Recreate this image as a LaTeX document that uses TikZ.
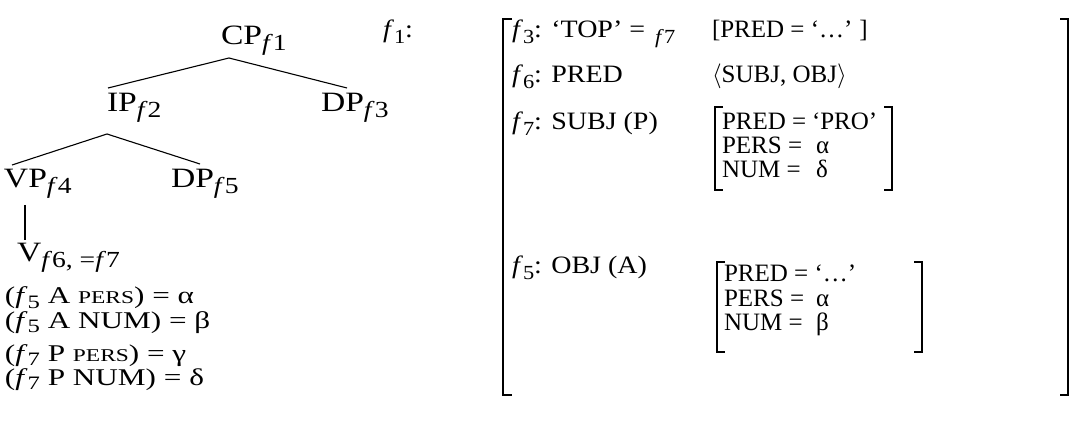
\documentclass[tikz,border=0pt]{standalone}
\usepackage{fontspec}
\setmainfont{Liberation Serif}
\newcommand\tsub[1]{\raisebox{-0.45ex}{\fontsize{23}{23}\selectfont #1}}
\newcommand\lsub[1]{\raisebox{-0.45ex}{\fontsize{20}{20}\selectfont #1}}
\newcommand\esub[1]{\raisebox{-0.4ex}{\fontsize{19}{19}\selectfont #1}}
\newcommand\smc[1]{{\fontsize{18}{18}\selectfont #1}}
\newcommand\wtree[1]{\scalebox{1.2}[1]{#1}}
\newcommand\weq[1]{\scalebox{1.3}[1]{#1}}
\newcommand\wcol[1]{\scalebox{1.12}[1]{#1}}
\begin{document}
\begin{tikzpicture}[x=1pt,y=-1pt,
  lbl/.style={anchor=base west, inner sep=0pt, outer sep=0pt, font=\fontsize{25}{25}\selectfont},
  clbl/.style={lbl, font=\fontsize{25}{25}\selectfont},
  tlbl/.style={lbl, font=\fontsize{28}{28}\selectfont},
  eq/.style={lbl, font=\fontsize{24}{24}\selectfont},
  br/.style={line width=1.5pt},
  edge/.style={line width=1.1pt}]
\useasboundingbox (0,0) rectangle (1075,443);
% tree
\node[tlbl] (cp) at (221,45) {\wtree{CP\tsub{\textit{f}1}}};
\node[tlbl] (ip) at (107,112) {\wtree{IP\tsub{\textit{f}2}}};
\node[tlbl] (dp3) at (321,112) {\wtree{DP\tsub{\textit{f}3}}};
\node[tlbl] (vp) at (4,188) {\wtree{VP\tsub{\textit{f}4}}};
\node[tlbl] (dp5) at (171,188) {\wtree{DP\tsub{\textit{f}5}}};
\node[tlbl] (v) at (17,262) {\wtree{V\tsub{\textit{f}6, =\textit{f}7}}};
\coordinate (cpB) at (229,58);
\coordinate (ipT) at (108,88);
\coordinate (dp3T) at (347,88);
\coordinate (ipB) at (107,134);
\coordinate (vpT) at (12,165);
\coordinate (dp5T) at (200,164);
\coordinate (vpB) at (25,205);
\coordinate (vT) at (25,240);
\draw[edge] (ipT) -- (cpB) -- (dp3T);
\draw[edge] (vpT) -- (ipB) -- (dp5T);
\draw[edge] (vpB) -- (vT);
% equations
\node[eq] (e1) at (5,304) {\weq{(\textit{f}\esub{5} A \smc{PERS}) = α}};
\node[eq] (e2) at (5,328) {\weq{(\textit{f}\esub{5} A NUM) = β}};
\node[eq] (e3) at (5,361) {\weq{(\textit{f}\esub{7} P \smc{PERS}) = γ}};
\node[eq] (e4) at (5,385) {\weq{(\textit{f}\esub{7} P NUM) = δ}};
% f-structure
\node[clbl] (f1) at (383,38) {\wcol{\textit{f}\lsub{1}:}};
\draw[br] (512,19) -- (503,19) -- (503,395) -- (512,395);
\draw[br] (1060,19) -- (1068,19) -- (1068,395) -- (1060,395);
\node[clbl] (r1a) at (512,38) {\wcol{\textit{f}\lsub{3}: ‘TOP’ =\hspace{9pt}\lsub{\textit{f}7}}};
\node[lbl] (r1b) at (712,38) {[PRED = ‘…’\hspace{7pt}]};
\node[clbl] (r2a) at (512,83) {\wcol{\textit{f}\lsub{6}: PRED}};
\node[lbl] (r2b) at (712,83) {$\langle$SUBJ, OBJ$\rangle$};
\node[clbl] (r3a) at (512,130) {\wcol{\textit{f}\lsub{7}: SUBJ (P)}};
\node[lbl] (s1) at (722,130) {PRED =};
\node[lbl] (s1v) at (812,130) {‘PRO’};
\node[lbl] (s2) at (722,154) {PERS =};
\node[lbl] (s2v) at (816,154) {α};
\node[lbl] (s3) at (722,178) {NUM =};
\node[lbl] (s3v) at (816,178) {δ};
\draw[br] (723,107) -- (715,107) -- (715,190) -- (723,190);
\draw[br] (884,107) -- (892,107) -- (892,190) -- (884,190);
\node[clbl] (r4a) at (512,274) {\wcol{\textit{f}\lsub{5}: OBJ (A)}};
\node[lbl] (o1) at (724,282) {PRED = ‘…’};
\node[lbl] (o2) at (724,306) {PERS =};
\node[lbl] (o2v) at (816,306) {α};
\node[lbl] (o3) at (724,330) {NUM =};
\node[lbl] (o3v) at (816,330) {β};
\draw[br] (725,262) -- (717,262) -- (717,352) -- (725,352);
\draw[br] (914,262) -- (922,262) -- (922,352) -- (914,352);
\end{tikzpicture}
\end{document}
